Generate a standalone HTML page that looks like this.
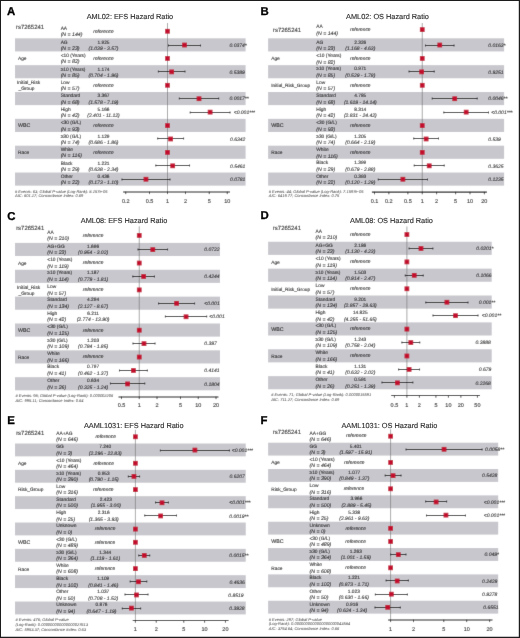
<!DOCTYPE html>
<html lang="en">
<head>
<meta charset="utf-8">
<title>Forest plots: rs7265241 hazard ratios</title>
<style>
html,body{margin:0;padding:0;background:#fff;}
body{width:520px;height:638px;overflow:hidden;}
svg{display:block;font-family:"Liberation Sans",sans-serif;text-rendering:geometricPrecision;}
text{stroke:#262626;stroke-width:0.1px;paint-order:stroke;}
</style>
</head>
<body>
<svg width="520" height="638" viewBox="0 0 520 638">
<defs><filter id="soft" x="0" y="0" width="520" height="638" filterUnits="userSpaceOnUse"><feConvolveMatrix order="3" kernelMatrix="1 10 1 10 100 10 1 10 1" divisor="144" edgeMode="duplicate" preserveAlpha="true"/></filter></defs>
<rect x="0" y="0" width="520" height="638" fill="#fff"/>
<g filter="url(#soft)">
<rect x="0" y="0" width="520" height="638" fill="#fff"/>
<g id="panel-A">
<rect x="15" y="38.32" width="230.60" height="13.12" fill="#c8c7cd"/>
<rect x="15" y="65.16" width="230.60" height="13.12" fill="#c8c7cd"/>
<rect x="15" y="92.00" width="230.60" height="13.12" fill="#c8c7cd"/>
<rect x="15" y="118.84" width="230.60" height="13.12" fill="#c8c7cd"/>
<rect x="15" y="145.68" width="230.60" height="13.12" fill="#c8c7cd"/>
<rect x="15" y="172.52" width="230.60" height="13.12" fill="#c8c7cd"/>
<line x1="167.5" y1="23.00" x2="167.5" y2="191.9" stroke="#6e6e6e" stroke-width="0.6"/>
<line x1="123.1" y1="191.9" x2="230" y2="191.9" stroke="#222" stroke-width="1.05"/>
<line x1="125.74" y1="191.60" x2="125.74" y2="194.10" stroke="#222" stroke-width="0.8"/>
<text x="125.74" y="202.79" font-size="5.5" text-anchor="middle" fill="#262626">0.2</text>
<line x1="149.51" y1="191.60" x2="149.51" y2="194.10" stroke="#222" stroke-width="0.8"/>
<text x="149.51" y="202.79" font-size="5.5" text-anchor="middle" fill="#262626">0.5</text>
<line x1="167.50" y1="191.60" x2="167.50" y2="194.10" stroke="#222" stroke-width="0.8"/>
<text x="167.50" y="202.79" font-size="5.5" text-anchor="middle" fill="#262626">1</text>
<line x1="185.49" y1="191.60" x2="185.49" y2="194.10" stroke="#222" stroke-width="0.8"/>
<text x="185.49" y="202.79" font-size="5.5" text-anchor="middle" fill="#262626">2</text>
<line x1="209.26" y1="191.60" x2="209.26" y2="194.10" stroke="#222" stroke-width="0.8"/>
<text x="209.26" y="202.79" font-size="5.5" text-anchor="middle" fill="#262626">5</text>
<line x1="227.25" y1="191.60" x2="227.25" y2="194.10" stroke="#222" stroke-width="0.8"/>
<text x="227.25" y="202.79" font-size="5.5" text-anchor="middle" fill="#262626">10</text>
<text x="16.00" y="28.75" font-size="5.95" fill="#262626">rs7265241</text>
<text x="60.65" y="29.80" font-size="4.85" fill="#262626">AA</text>
<text x="60.65" y="36.00" font-size="5.2" font-style="italic" fill="#262626">(N = 144)</text>
<text x="103.50" y="32.70" font-size="4.85" text-anchor="middle" font-style="italic" fill="#262626">reference</text>
<rect x="165.12" y="28.88" width="4.75" height="4.75" fill="#c2102e"/>
<text x="60.65" y="43.77" font-size="4.85" fill="#262626">AG</text>
<text x="60.65" y="50.02" font-size="5.2" font-style="italic" fill="#262626">(N = 23)</text>
<text x="103.50" y="43.77" font-size="4.8" text-anchor="middle" fill="#262626">1.925</text>
<text x="103.50" y="50.02" font-size="5.0" text-anchor="middle" font-style="italic" fill="#262626">(1.039 - 3.57)</text>
<path d="M168.49 45.50H200.52M168.49 44.60v1.8M200.52 44.60v1.8" stroke="#111" stroke-width="0.95" fill="none"/>
<text x="229.50" y="46.75" font-size="5.0" font-style="italic" fill="#262626">0.0374*</text>
<rect x="182.12" y="42.66" width="4.75" height="4.75" fill="#c2102e"/>
<text x="18.00" y="60.35" font-size="4.8" fill="#262626">Age</text>
<text x="60.65" y="57.19" font-size="4.85" fill="#262626">&lt;10 (Years)</text>
<text x="60.65" y="63.44" font-size="5.2" font-style="italic" fill="#262626">(N = 82)</text>
<text x="103.50" y="59.75" font-size="4.85" text-anchor="middle" font-style="italic" fill="#262626">reference</text>
<rect x="165.12" y="56.07" width="4.75" height="4.75" fill="#c2102e"/>
<text x="60.65" y="70.61" font-size="4.85" fill="#262626">≥10 (Years)</text>
<text x="60.65" y="76.86" font-size="5.2" font-style="italic" fill="#262626">(N = 85)</text>
<text x="103.50" y="70.61" font-size="4.8" text-anchor="middle" fill="#262626">1.174</text>
<text x="103.50" y="76.86" font-size="5.0" text-anchor="middle" font-style="italic" fill="#262626">(0.704 - 1.96)</text>
<path d="M158.39 71.50H184.96M158.39 70.60v1.8M184.96 70.60v1.8" stroke="#111" stroke-width="0.95" fill="none"/>
<text x="229.50" y="73.59" font-size="5.0" font-style="italic" fill="#262626">0.5389</text>
<rect x="169.29" y="69.49" width="4.75" height="4.75" fill="#c2102e"/>
<text x="17.00" y="84.48" font-size="4.8" fill="#262626">Initial_Risk</text>
<text x="18.50" y="89.98" font-size="4.8" fill="#262626">_Group</text>
<text x="60.65" y="84.03" font-size="4.85" fill="#262626">Low</text>
<text x="60.65" y="90.28" font-size="5.2" font-style="italic" fill="#262626">(N = 57)</text>
<text x="103.50" y="86.59" font-size="4.85" text-anchor="middle" font-style="italic" fill="#262626">reference</text>
<rect x="165.12" y="82.91" width="4.75" height="4.75" fill="#c2102e"/>
<text x="60.65" y="97.45" font-size="4.85" fill="#262626">Standard</text>
<text x="60.65" y="103.70" font-size="5.2" font-style="italic" fill="#262626">(N = 68)</text>
<text x="103.50" y="97.45" font-size="4.8" text-anchor="middle" fill="#262626">3.367</text>
<text x="103.50" y="103.70" font-size="5.0" text-anchor="middle" font-style="italic" fill="#262626">(1.578 - 7.19)</text>
<path d="M179.34 98.50H218.69M179.34 97.60v1.8M218.69 97.60v1.8" stroke="#111" stroke-width="0.95" fill="none"/>
<text x="229.50" y="100.43" font-size="5.0" font-style="italic" fill="#262626">0.0017**</text>
<rect x="196.63" y="96.33" width="4.75" height="4.75" fill="#c2102e"/>
<text x="60.65" y="110.87" font-size="4.85" fill="#262626">High</text>
<text x="60.65" y="117.12" font-size="5.2" font-style="italic" fill="#262626">(N = 42)</text>
<text x="103.50" y="110.87" font-size="4.8" text-anchor="middle" fill="#262626">5.166</text>
<text x="103.50" y="117.12" font-size="5.0" text-anchor="middle" font-style="italic" fill="#262626">(2.401 - 11.12)</text>
<path d="M190.23 112.50H230.00M190.23 111.60v1.8M230.00 111.60v1.8" stroke="#111" stroke-width="0.95" fill="none"/>
<text x="233.75" y="113.85" font-size="5.0" font-style="italic" fill="#262626">&lt;0.001***</text>
<rect x="207.74" y="109.75" width="4.75" height="4.75" fill="#c2102e"/>
<text x="18.00" y="127.45" font-size="5.3" fill="#262626">WBC</text>
<text x="60.65" y="124.29" font-size="4.85" fill="#262626">&lt;30 (G/L)</text>
<text x="60.65" y="130.54" font-size="5.2" font-style="italic" fill="#262626">(N = 93)</text>
<text x="103.50" y="126.85" font-size="4.85" text-anchor="middle" font-style="italic" fill="#262626">reference</text>
<rect x="165.12" y="123.17" width="4.75" height="4.75" fill="#c2102e"/>
<text x="60.65" y="137.71" font-size="4.85" fill="#262626">≥30 (G/L)</text>
<text x="60.65" y="143.96" font-size="5.2" font-style="italic" fill="#262626">(N = 74)</text>
<text x="103.50" y="137.71" font-size="4.8" text-anchor="middle" fill="#262626">1.129</text>
<text x="103.50" y="143.96" font-size="5.0" text-anchor="middle" font-style="italic" fill="#262626">(0.686 - 1.86)</text>
<path d="M157.72 138.50H183.60M157.72 137.60v1.8M183.60 137.60v1.8" stroke="#111" stroke-width="0.95" fill="none"/>
<text x="230.00" y="140.69" font-size="5.0" font-style="italic" fill="#262626">0.6342</text>
<rect x="168.27" y="136.59" width="4.75" height="4.75" fill="#c2102e"/>
<text x="18.00" y="154.29" font-size="4.8" fill="#262626">Race</text>
<text x="60.65" y="151.13" font-size="4.85" fill="#262626">White</text>
<text x="60.65" y="157.38" font-size="5.2" font-style="italic" fill="#262626">(N = 116)</text>
<text x="103.50" y="153.69" font-size="4.85" text-anchor="middle" font-style="italic" fill="#262626">reference</text>
<rect x="165.12" y="150.02" width="4.75" height="4.75" fill="#c2102e"/>
<text x="60.65" y="164.55" font-size="4.85" fill="#262626">Black</text>
<text x="60.65" y="170.80" font-size="5.2" font-style="italic" fill="#262626">(N = 29)</text>
<text x="103.50" y="164.55" font-size="4.8" text-anchor="middle" fill="#262626">1.221</text>
<text x="103.50" y="170.80" font-size="5.0" text-anchor="middle" font-style="italic" fill="#262626">(0.638 - 2.34)</text>
<path d="M155.84 165.50H189.56M155.84 164.60v1.8M189.56 164.60v1.8" stroke="#111" stroke-width="0.95" fill="none"/>
<text x="230.00" y="167.53" font-size="5.0" font-style="italic" fill="#262626">0.5461</text>
<rect x="170.31" y="163.44" width="4.75" height="4.75" fill="#c2102e"/>
<text x="60.65" y="177.97" font-size="4.85" fill="#262626">Other</text>
<text x="60.65" y="184.22" font-size="5.2" font-style="italic" fill="#262626">(N = 22)</text>
<text x="103.50" y="177.97" font-size="4.8" text-anchor="middle" fill="#262626">0.436</text>
<text x="103.50" y="184.22" font-size="5.0" text-anchor="middle" font-style="italic" fill="#262626">(0.173 - 1.10)</text>
<path d="M121.97 179.50H169.97M121.97 178.60v1.8M169.97 178.60v1.8" stroke="#111" stroke-width="0.95" fill="none"/>
<text x="230.00" y="180.95" font-size="5.0" font-style="italic" fill="#262626">0.0781</text>
<rect x="143.58" y="176.86" width="4.75" height="4.75" fill="#c2102e"/>
<text x="15.00" y="192.64" font-size="4.03" font-style="italic" fill="#2a2a2a" style="stroke:none"># Events: 63; Global P-value (Log-Rank): 8.157e-05</text>
<text x="15.00" y="197.49" font-size="4.03" font-style="italic" fill="#2a2a2a" style="stroke:none">AIC: 601.17; Concordance Index: 0.69</text>
</g>
<g id="panel-B">
<rect x="268.1" y="38.32" width="236.00" height="13.12" fill="#c8c7cd"/>
<rect x="268.1" y="65.16" width="236.00" height="13.12" fill="#c8c7cd"/>
<rect x="268.1" y="92.00" width="236.00" height="13.12" fill="#c8c7cd"/>
<rect x="268.1" y="118.84" width="236.00" height="13.12" fill="#c8c7cd"/>
<rect x="268.1" y="145.68" width="236.00" height="13.12" fill="#c8c7cd"/>
<rect x="268.1" y="172.52" width="236.00" height="13.12" fill="#c8c7cd"/>
<line x1="422.25" y1="23.00" x2="422.25" y2="192.1" stroke="#6e6e6e" stroke-width="0.6"/>
<line x1="371.9" y1="192.1" x2="486.9" y2="192.1" stroke="#222" stroke-width="1.05"/>
<line x1="374.50" y1="191.80" x2="374.50" y2="194.30" stroke="#222" stroke-width="0.8"/>
<text x="374.50" y="203.14" font-size="5.5" text-anchor="middle" fill="#262626">0.1</text>
<line x1="388.87" y1="191.80" x2="388.87" y2="194.30" stroke="#222" stroke-width="0.8"/>
<text x="388.87" y="203.14" font-size="5.5" text-anchor="middle" fill="#262626">0.2</text>
<line x1="407.88" y1="191.80" x2="407.88" y2="194.30" stroke="#222" stroke-width="0.8"/>
<text x="407.88" y="203.14" font-size="5.5" text-anchor="middle" fill="#262626">0.5</text>
<line x1="422.25" y1="191.80" x2="422.25" y2="194.30" stroke="#222" stroke-width="0.8"/>
<text x="422.25" y="203.14" font-size="5.5" text-anchor="middle" fill="#262626">1</text>
<line x1="436.62" y1="191.80" x2="436.62" y2="194.30" stroke="#222" stroke-width="0.8"/>
<text x="436.62" y="203.14" font-size="5.5" text-anchor="middle" fill="#262626">2</text>
<line x1="455.63" y1="191.80" x2="455.63" y2="194.30" stroke="#222" stroke-width="0.8"/>
<text x="455.63" y="203.14" font-size="5.5" text-anchor="middle" fill="#262626">5</text>
<line x1="470.00" y1="191.80" x2="470.00" y2="194.30" stroke="#222" stroke-width="0.8"/>
<text x="470.00" y="203.14" font-size="5.5" text-anchor="middle" fill="#262626">10</text>
<line x1="484.37" y1="191.80" x2="484.37" y2="194.30" stroke="#222" stroke-width="0.8"/>
<text x="484.37" y="203.14" font-size="5.5" text-anchor="middle" fill="#262626">20</text>
<text x="273.00" y="32.25" font-size="5.95" fill="#262626">rs7265241</text>
<text x="316.25" y="28.00" font-size="4.85" fill="#262626">AA</text>
<text x="316.25" y="34.60" font-size="5.2" font-style="italic" fill="#262626">(N = 144)</text>
<text x="360.30" y="31.10" font-size="4.85" text-anchor="middle" font-style="italic" fill="#262626">reference</text>
<rect x="419.88" y="27.23" width="4.75" height="4.75" fill="#c2102e"/>
<text x="316.25" y="43.62" font-size="4.85" fill="#262626">AG</text>
<text x="316.25" y="50.22" font-size="5.2" font-style="italic" fill="#262626">(N = 23)</text>
<text x="360.30" y="43.62" font-size="4.8" text-anchor="middle" fill="#262626">2.326</text>
<text x="360.30" y="50.22" font-size="5.0" text-anchor="middle" font-style="italic" fill="#262626">(1.168 - 4.63)</text>
<path d="M425.47 45.50H454.03M425.47 44.60v1.8M454.03 44.60v1.8" stroke="#111" stroke-width="0.95" fill="none"/>
<text x="488.25" y="46.75" font-size="5.0" font-style="italic" fill="#262626">0.0163*</text>
<rect x="437.38" y="42.66" width="4.75" height="4.75" fill="#c2102e"/>
<text x="271.25" y="60.35" font-size="4.8" fill="#262626">Age</text>
<text x="316.25" y="57.04" font-size="4.85" fill="#262626">&lt;10 (Years)</text>
<text x="316.25" y="63.64" font-size="5.2" font-style="italic" fill="#262626">(N = 82)</text>
<text x="360.30" y="59.75" font-size="4.85" text-anchor="middle" font-style="italic" fill="#262626">reference</text>
<rect x="419.88" y="56.07" width="4.75" height="4.75" fill="#c2102e"/>
<text x="316.25" y="70.46" font-size="4.85" fill="#262626">≥10 (Years)</text>
<text x="316.25" y="77.06" font-size="5.2" font-style="italic" fill="#262626">(N = 85)</text>
<text x="360.30" y="70.46" font-size="4.8" text-anchor="middle" fill="#262626">0.971</text>
<text x="360.30" y="77.06" font-size="5.0" text-anchor="middle" font-style="italic" fill="#262626">(0.529 - 1.78)</text>
<path d="M409.05 71.50H434.21M409.05 70.60v1.8M434.21 70.60v1.8" stroke="#111" stroke-width="0.95" fill="none"/>
<text x="488.25" y="73.59" font-size="5.0" font-style="italic" fill="#262626">0.9251</text>
<rect x="419.26" y="69.49" width="4.75" height="4.75" fill="#c2102e"/>
<text x="271.25" y="87.19" font-size="4.75" fill="#262626">Initial_Risk_Group</text>
<text x="316.25" y="83.88" font-size="4.85" fill="#262626">Low</text>
<text x="316.25" y="90.48" font-size="5.2" font-style="italic" fill="#262626">(N = 57)</text>
<text x="360.30" y="86.59" font-size="4.85" text-anchor="middle" font-style="italic" fill="#262626">reference</text>
<rect x="419.88" y="82.91" width="4.75" height="4.75" fill="#c2102e"/>
<text x="316.25" y="97.30" font-size="4.85" fill="#262626">Standard</text>
<text x="316.25" y="103.90" font-size="5.2" font-style="italic" fill="#262626">(N = 68)</text>
<text x="360.30" y="97.30" font-size="4.8" text-anchor="middle" fill="#262626">4.785</text>
<text x="360.30" y="103.90" font-size="5.0" text-anchor="middle" font-style="italic" fill="#262626">(1.619 - 14.14)</text>
<path d="M432.24 98.50H477.18M432.24 97.60v1.8M477.18 97.60v1.8" stroke="#111" stroke-width="0.95" fill="none"/>
<text x="488.25" y="100.43" font-size="5.0" font-style="italic" fill="#262626">0.0046**</text>
<rect x="452.34" y="96.33" width="4.75" height="4.75" fill="#c2102e"/>
<text x="316.25" y="110.72" font-size="4.85" fill="#262626">High</text>
<text x="316.25" y="117.32" font-size="5.2" font-style="italic" fill="#262626">(N = 42)</text>
<text x="360.30" y="110.72" font-size="4.8" text-anchor="middle" fill="#262626">8.314</text>
<text x="360.30" y="117.32" font-size="5.0" text-anchor="middle" font-style="italic" fill="#262626">(2.831 - 24.42)</text>
<path d="M443.83 112.50H488.51M443.83 111.60v1.8M488.51 111.60v1.8" stroke="#111" stroke-width="0.95" fill="none"/>
<text x="491.25" y="113.85" font-size="5.0" font-style="italic" fill="#262626">&lt;0.001***</text>
<rect x="463.80" y="109.75" width="4.75" height="4.75" fill="#c2102e"/>
<text x="271.25" y="127.45" font-size="5.3" fill="#262626">WBC</text>
<text x="316.25" y="124.14" font-size="4.85" fill="#262626">&lt;30 (G/L)</text>
<text x="316.25" y="130.74" font-size="5.2" font-style="italic" fill="#262626">(N = 93)</text>
<text x="360.30" y="126.85" font-size="4.85" text-anchor="middle" font-style="italic" fill="#262626">reference</text>
<rect x="419.88" y="123.17" width="4.75" height="4.75" fill="#c2102e"/>
<text x="316.25" y="137.56" font-size="4.85" fill="#262626">≥30 (G/L)</text>
<text x="316.25" y="144.16" font-size="5.2" font-style="italic" fill="#262626">(N = 74)</text>
<text x="360.30" y="137.56" font-size="4.8" text-anchor="middle" fill="#262626">1.205</text>
<text x="360.30" y="144.16" font-size="5.0" text-anchor="middle" font-style="italic" fill="#262626">(0.664 - 2.19)</text>
<path d="M413.76 138.50H438.51M413.76 137.60v1.8M438.51 137.60v1.8" stroke="#111" stroke-width="0.95" fill="none"/>
<text x="488.25" y="140.69" font-size="5.0" font-style="italic" fill="#262626">0.539</text>
<rect x="423.74" y="136.59" width="4.75" height="4.75" fill="#c2102e"/>
<text x="271.25" y="154.29" font-size="4.8" fill="#262626">Race</text>
<text x="316.25" y="150.98" font-size="4.85" fill="#262626">White</text>
<text x="316.25" y="157.58" font-size="5.2" font-style="italic" fill="#262626">(N = 116)</text>
<text x="360.30" y="153.69" font-size="4.85" text-anchor="middle" font-style="italic" fill="#262626">reference</text>
<rect x="419.88" y="150.02" width="4.75" height="4.75" fill="#c2102e"/>
<text x="316.25" y="164.40" font-size="4.85" fill="#262626">Black</text>
<text x="316.25" y="171.00" font-size="5.2" font-style="italic" fill="#262626">(N = 29)</text>
<text x="360.30" y="164.40" font-size="4.8" text-anchor="middle" fill="#262626">1.399</text>
<text x="360.30" y="171.00" font-size="5.0" text-anchor="middle" font-style="italic" fill="#262626">(0.679 - 2.88)</text>
<path d="M414.22 165.50H444.19M414.22 164.60v1.8M444.19 164.60v1.8" stroke="#111" stroke-width="0.95" fill="none"/>
<text x="488.25" y="167.53" font-size="5.0" font-style="italic" fill="#262626">0.3625</text>
<rect x="426.84" y="163.44" width="4.75" height="4.75" fill="#c2102e"/>
<text x="316.25" y="177.82" font-size="4.85" fill="#262626">Other</text>
<text x="316.25" y="184.42" font-size="5.2" font-style="italic" fill="#262626">(N = 22)</text>
<text x="360.30" y="177.82" font-size="4.8" text-anchor="middle" fill="#262626">0.393</text>
<text x="360.30" y="184.42" font-size="5.0" text-anchor="middle" font-style="italic" fill="#262626">(0.120 - 1.29)</text>
<path d="M378.28 179.50H427.53M378.28 178.60v1.8M427.53 178.60v1.8" stroke="#111" stroke-width="0.95" fill="none"/>
<text x="488.25" y="180.95" font-size="5.0" font-style="italic" fill="#262626">0.1235</text>
<rect x="400.51" y="176.86" width="4.75" height="4.75" fill="#c2102e"/>
<text x="268.75" y="192.64" font-size="4.03" font-style="italic" fill="#2a2a2a" style="stroke:none"># Events: 44; Global P-value (Log-Rank): 7.1597e-05</text>
<text x="268.75" y="197.14" font-size="4.03" font-style="italic" fill="#2a2a2a" style="stroke:none">AIC: 6419.77; Concordance Index: 0.75</text>
</g>
<g id="panel-C">
<rect x="15" y="242.90" width="205.00" height="13.13" fill="#c8c7cd"/>
<rect x="15" y="269.76" width="205.00" height="13.13" fill="#c8c7cd"/>
<rect x="15" y="296.62" width="205.00" height="13.13" fill="#c8c7cd"/>
<rect x="15" y="323.48" width="205.00" height="13.13" fill="#c8c7cd"/>
<rect x="15" y="350.34" width="205.00" height="13.13" fill="#c8c7cd"/>
<rect x="15" y="377.20" width="205.00" height="13.13" fill="#c8c7cd"/>
<line x1="139.25" y1="226.30" x2="139.25" y2="396.9" stroke="#6e6e6e" stroke-width="0.6"/>
<line x1="118.5" y1="396.9" x2="218.5" y2="396.9" stroke="#222" stroke-width="1.05"/>
<line x1="121.49" y1="396.60" x2="121.49" y2="399.10" stroke="#222" stroke-width="0.8"/>
<text x="121.49" y="407.49" font-size="5.5" text-anchor="middle" fill="#262626">0.5</text>
<line x1="139.25" y1="396.60" x2="139.25" y2="399.10" stroke="#222" stroke-width="0.8"/>
<text x="139.25" y="407.49" font-size="5.5" text-anchor="middle" fill="#262626">1</text>
<line x1="157.01" y1="396.60" x2="157.01" y2="399.10" stroke="#222" stroke-width="0.8"/>
<text x="157.01" y="407.49" font-size="5.5" text-anchor="middle" fill="#262626">2</text>
<line x1="180.49" y1="396.60" x2="180.49" y2="399.10" stroke="#222" stroke-width="0.8"/>
<text x="180.49" y="407.49" font-size="5.5" text-anchor="middle" fill="#262626">5</text>
<line x1="198.25" y1="396.60" x2="198.25" y2="399.10" stroke="#222" stroke-width="0.8"/>
<text x="198.25" y="407.49" font-size="5.5" text-anchor="middle" fill="#262626">10</text>
<line x1="216.01" y1="396.60" x2="216.01" y2="399.10" stroke="#222" stroke-width="0.8"/>
<text x="216.01" y="407.49" font-size="5.5" text-anchor="middle" fill="#262626">20</text>
<text x="16.15" y="229.85" font-size="5.95" fill="#262626">rs7265241</text>
<text x="47.30" y="233.77" font-size="4.85" fill="#262626">AA</text>
<text x="47.30" y="239.97" font-size="5.2" font-style="italic" fill="#262626">(N = 210)</text>
<text x="93.10" y="236.72" font-size="4.85" text-anchor="middle" font-style="italic" fill="#262626">reference</text>
<rect x="136.88" y="233.06" width="4.75" height="4.75" fill="#c2102e"/>
<text x="47.30" y="247.60" font-size="4.85" fill="#262626">AG+GG</text>
<text x="47.30" y="254.30" font-size="5.2" font-style="italic" fill="#262626">(N = 23)</text>
<text x="93.10" y="247.60" font-size="4.8" text-anchor="middle" fill="#262626">1.696</text>
<text x="93.10" y="254.30" font-size="5.0" text-anchor="middle" font-style="italic" fill="#262626">(0.954 - 3.02)</text>
<path d="M138.04 249.50H167.57M138.04 248.60v1.8M167.57 248.60v1.8" stroke="#111" stroke-width="0.95" fill="none"/>
<text x="204.25" y="251.34" font-size="5.0" font-style="italic" fill="#262626">0.0722</text>
<rect x="150.41" y="247.24" width="4.75" height="4.75" fill="#c2102e"/>
<text x="18.00" y="264.94" font-size="4.8" fill="#262626">Age</text>
<text x="47.30" y="261.03" font-size="4.85" fill="#262626">&lt;10 (Years)</text>
<text x="47.30" y="267.73" font-size="5.2" font-style="italic" fill="#262626">(N = 119)</text>
<text x="93.10" y="264.34" font-size="4.85" text-anchor="middle" font-style="italic" fill="#262626">reference</text>
<rect x="136.88" y="260.67" width="4.75" height="4.75" fill="#c2102e"/>
<text x="47.30" y="274.46" font-size="4.85" fill="#262626">≥10 (Years)</text>
<text x="47.30" y="281.16" font-size="5.2" font-style="italic" fill="#262626">(N = 114)</text>
<text x="93.10" y="274.46" font-size="4.8" text-anchor="middle" fill="#262626">1.187</text>
<text x="93.10" y="281.16" font-size="5.0" text-anchor="middle" font-style="italic" fill="#262626">(0.779 - 1.81)</text>
<path d="M132.85 276.50H154.45M132.85 275.60v1.8M154.45 275.60v1.8" stroke="#111" stroke-width="0.95" fill="none"/>
<text x="204.25" y="278.19" font-size="5.0" font-style="italic" fill="#262626">0.4244</text>
<rect x="141.27" y="274.10" width="4.75" height="4.75" fill="#c2102e"/>
<text x="17.00" y="289.09" font-size="4.8" fill="#262626">Initial_Risk</text>
<text x="18.50" y="294.59" font-size="4.8" fill="#262626">_Group</text>
<text x="47.30" y="287.89" font-size="4.85" fill="#262626">Low</text>
<text x="47.30" y="294.59" font-size="5.2" font-style="italic" fill="#262626">(N = 57)</text>
<text x="93.10" y="291.20" font-size="4.85" text-anchor="middle" font-style="italic" fill="#262626">reference</text>
<rect x="136.88" y="287.53" width="4.75" height="4.75" fill="#c2102e"/>
<text x="47.30" y="301.32" font-size="4.85" fill="#262626">Standard</text>
<text x="47.30" y="308.02" font-size="5.2" font-style="italic" fill="#262626">(N = 134)</text>
<text x="93.10" y="301.32" font-size="4.8" text-anchor="middle" fill="#262626">4.294</text>
<text x="93.10" y="308.02" font-size="5.0" text-anchor="middle" font-style="italic" fill="#262626">(2.127 - 8.67)</text>
<path d="M158.59 303.50H194.59M158.59 302.60v1.8M194.59 302.60v1.8" stroke="#111" stroke-width="0.95" fill="none"/>
<text x="204.25" y="305.06" font-size="5.0" font-style="italic" fill="#262626">&lt;0.001</text>
<rect x="174.21" y="300.96" width="4.75" height="4.75" fill="#c2102e"/>
<text x="47.30" y="314.75" font-size="4.85" fill="#262626">High</text>
<text x="47.30" y="321.45" font-size="5.2" font-style="italic" fill="#262626">(N = 42)</text>
<text x="93.10" y="314.75" font-size="4.8" text-anchor="middle" fill="#262626">6.211</text>
<text x="93.10" y="321.45" font-size="5.0" text-anchor="middle" font-style="italic" fill="#262626">(2.774 - 13.90)</text>
<path d="M165.39 316.50H206.69M165.39 315.60v1.8M206.69 315.60v1.8" stroke="#111" stroke-width="0.95" fill="none"/>
<text x="209.25" y="318.49" font-size="5.0" font-style="italic" fill="#262626">&lt;0.001</text>
<rect x="183.67" y="314.39" width="4.75" height="4.75" fill="#c2102e"/>
<text x="18.00" y="332.09" font-size="5.3" fill="#262626">WBC</text>
<text x="47.30" y="328.18" font-size="4.85" fill="#262626">&lt;30 (G/L)</text>
<text x="47.30" y="334.88" font-size="5.2" font-style="italic" fill="#262626">(N = 125)</text>
<text x="93.10" y="331.50" font-size="4.85" text-anchor="middle" font-style="italic" fill="#262626">reference</text>
<rect x="136.88" y="327.82" width="4.75" height="4.75" fill="#c2102e"/>
<text x="47.30" y="341.61" font-size="4.85" fill="#262626">≥30 (G/L)</text>
<text x="47.30" y="348.31" font-size="5.2" font-style="italic" fill="#262626">(N = 109)</text>
<text x="93.10" y="341.61" font-size="4.8" text-anchor="middle" fill="#262626">1.203</text>
<text x="93.10" y="348.31" font-size="5.0" text-anchor="middle" font-style="italic" fill="#262626">(0.784 - 1.85)</text>
<path d="M133.01 343.50H155.01M133.01 342.60v1.8M155.01 342.60v1.8" stroke="#111" stroke-width="0.95" fill="none"/>
<text x="204.25" y="345.34" font-size="5.0" font-style="italic" fill="#262626">0.397</text>
<rect x="141.61" y="341.25" width="4.75" height="4.75" fill="#c2102e"/>
<text x="18.00" y="358.95" font-size="4.8" fill="#262626">Race</text>
<text x="47.30" y="355.04" font-size="4.85" fill="#262626">White</text>
<text x="47.30" y="361.74" font-size="5.2" font-style="italic" fill="#262626">(N = 166)</text>
<text x="93.10" y="358.36" font-size="4.85" text-anchor="middle" font-style="italic" fill="#262626">reference</text>
<rect x="136.88" y="354.68" width="4.75" height="4.75" fill="#c2102e"/>
<text x="47.30" y="368.47" font-size="4.85" fill="#262626">Black</text>
<text x="47.30" y="375.17" font-size="5.2" font-style="italic" fill="#262626">(N = 41)</text>
<text x="93.10" y="368.47" font-size="4.8" text-anchor="middle" fill="#262626">0.797</text>
<text x="93.10" y="375.17" font-size="5.0" text-anchor="middle" font-style="italic" fill="#262626">(0.462 - 1.37)</text>
<path d="M119.46 370.50H147.32M119.46 369.60v1.8M147.32 369.60v1.8" stroke="#111" stroke-width="0.95" fill="none"/>
<text x="204.25" y="372.20" font-size="5.0" font-style="italic" fill="#262626">0.4141</text>
<rect x="131.06" y="368.11" width="4.75" height="4.75" fill="#c2102e"/>
<text x="47.30" y="381.90" font-size="4.85" fill="#262626">Other</text>
<text x="47.30" y="388.60" font-size="5.2" font-style="italic" fill="#262626">(N = 26)</text>
<text x="93.10" y="381.90" font-size="4.8" text-anchor="middle" fill="#262626">0.634</text>
<text x="93.10" y="388.60" font-size="5.0" text-anchor="middle" font-style="italic" fill="#262626">(0.325 - 1.24)</text>
<path d="M110.45 383.50H144.76M110.45 382.60v1.8M144.76 382.60v1.8" stroke="#111" stroke-width="0.95" fill="none"/>
<text x="204.25" y="385.63" font-size="5.0" font-style="italic" fill="#262626">0.1804</text>
<rect x="125.20" y="381.54" width="4.75" height="4.75" fill="#c2102e"/>
<text x="15.50" y="396.79" font-size="4.03" font-style="italic" fill="#2a2a2a" style="stroke:none"># Events: 98; Global P-value (Log-Rank): 0.000002206</text>
<text x="15.50" y="401.59" font-size="4.03" font-style="italic" fill="#2a2a2a" style="stroke:none">AIC: 995.11; Concordance Index: 0.64</text>
</g>
<g id="panel-D">
<rect x="268.1" y="241.74" width="223.60" height="13.14" fill="#c8c7cd"/>
<rect x="268.1" y="268.62" width="223.60" height="13.14" fill="#c8c7cd"/>
<rect x="268.1" y="295.50" width="223.60" height="13.14" fill="#c8c7cd"/>
<rect x="268.1" y="322.38" width="223.60" height="13.14" fill="#c8c7cd"/>
<rect x="268.1" y="349.26" width="223.60" height="13.14" fill="#c8c7cd"/>
<rect x="268.1" y="376.14" width="223.60" height="13.14" fill="#c8c7cd"/>
<line x1="406.9" y1="226.50" x2="406.9" y2="395.5" stroke="#6e6e6e" stroke-width="0.6"/>
<line x1="391.25" y1="395.5" x2="480" y2="395.5" stroke="#222" stroke-width="1.05"/>
<line x1="394.41" y1="395.20" x2="394.41" y2="397.70" stroke="#222" stroke-width="0.8"/>
<text x="394.41" y="406.79" font-size="5.5" text-anchor="middle" fill="#262626">0.5</text>
<line x1="406.90" y1="395.20" x2="406.90" y2="397.70" stroke="#222" stroke-width="0.8"/>
<text x="406.90" y="406.79" font-size="5.5" text-anchor="middle" fill="#262626">1</text>
<line x1="419.39" y1="395.20" x2="419.39" y2="397.70" stroke="#222" stroke-width="0.8"/>
<text x="419.39" y="406.79" font-size="5.5" text-anchor="middle" fill="#262626">2</text>
<line x1="435.91" y1="395.20" x2="435.91" y2="397.70" stroke="#222" stroke-width="0.8"/>
<text x="435.91" y="406.79" font-size="5.5" text-anchor="middle" fill="#262626">5</text>
<line x1="448.40" y1="395.20" x2="448.40" y2="397.70" stroke="#222" stroke-width="0.8"/>
<text x="448.40" y="406.79" font-size="5.5" text-anchor="middle" fill="#262626">10</text>
<line x1="460.89" y1="395.20" x2="460.89" y2="397.70" stroke="#222" stroke-width="0.8"/>
<text x="460.89" y="406.79" font-size="5.5" text-anchor="middle" fill="#262626">20</text>
<line x1="477.41" y1="395.20" x2="477.41" y2="397.70" stroke="#222" stroke-width="0.8"/>
<text x="477.41" y="406.79" font-size="5.5" text-anchor="middle" fill="#262626">50</text>
<text x="272.90" y="229.85" font-size="5.95" fill="#262626">rs7265241</text>
<text x="315.50" y="233.30" font-size="4.85" fill="#262626">AA</text>
<text x="315.50" y="239.30" font-size="5.2" font-style="italic" fill="#262626">(N = 210)</text>
<text x="360.30" y="235.80" font-size="4.85" text-anchor="middle" font-style="italic" fill="#262626">reference</text>
<rect x="404.52" y="232.15" width="4.75" height="4.75" fill="#c2102e"/>
<text x="315.50" y="246.84" font-size="4.85" fill="#262626">AG+GG</text>
<text x="315.50" y="253.39" font-size="5.2" font-style="italic" fill="#262626">(N = 23)</text>
<text x="360.30" y="246.84" font-size="4.8" text-anchor="middle" fill="#262626">2.186</text>
<text x="360.30" y="253.39" font-size="5.0" text-anchor="middle" font-style="italic" fill="#262626">(1.130 - 4.23)</text>
<path d="M409.10 248.50H432.89M409.10 247.60v1.8M432.89 247.60v1.8" stroke="#111" stroke-width="0.95" fill="none"/>
<text x="476.25" y="250.18" font-size="5.0" font-style="italic" fill="#262626">0.0201*</text>
<rect x="418.62" y="246.09" width="4.75" height="4.75" fill="#c2102e"/>
<text x="271.25" y="263.80" font-size="4.8" fill="#262626">Age</text>
<text x="315.50" y="260.28" font-size="4.85" fill="#262626">&lt;10 (Years)</text>
<text x="315.50" y="266.83" font-size="5.2" font-style="italic" fill="#262626">(N = 119)</text>
<text x="360.30" y="263.20" font-size="4.85" text-anchor="middle" font-style="italic" fill="#262626">reference</text>
<rect x="404.52" y="259.53" width="4.75" height="4.75" fill="#c2102e"/>
<text x="315.50" y="273.72" font-size="4.85" fill="#262626">≥10 (Years)</text>
<text x="315.50" y="280.27" font-size="5.2" font-style="italic" fill="#262626">(N = 114)</text>
<text x="360.30" y="273.72" font-size="4.8" text-anchor="middle" fill="#262626">1.503</text>
<text x="360.30" y="280.27" font-size="5.0" text-anchor="middle" font-style="italic" fill="#262626">(0.914 - 2.47)</text>
<path d="M405.28 275.50H423.20M405.28 274.60v1.8M423.20 274.60v1.8" stroke="#111" stroke-width="0.95" fill="none"/>
<text x="476.25" y="277.06" font-size="5.0" font-style="italic" fill="#262626">0.1066</text>
<rect x="411.87" y="272.97" width="4.75" height="4.75" fill="#c2102e"/>
<text x="271.25" y="290.68" font-size="4.75" fill="#262626">Initial_Risk_Group</text>
<text x="315.50" y="287.16" font-size="4.85" fill="#262626">Low</text>
<text x="315.50" y="293.71" font-size="5.2" font-style="italic" fill="#262626">(N = 57)</text>
<text x="360.30" y="290.08" font-size="4.85" text-anchor="middle" font-style="italic" fill="#262626">reference</text>
<rect x="404.52" y="286.41" width="4.75" height="4.75" fill="#c2102e"/>
<text x="315.50" y="300.60" font-size="4.85" fill="#262626">Standard</text>
<text x="315.50" y="307.15" font-size="5.2" font-style="italic" fill="#262626">(N = 134)</text>
<text x="360.30" y="300.60" font-size="4.8" text-anchor="middle" fill="#262626">9.201</text>
<text x="360.30" y="307.15" font-size="5.0" text-anchor="middle" font-style="italic" fill="#262626">(2.857 - 29.63)</text>
<path d="M425.82 302.50H467.98M425.82 301.60v1.8M467.98 301.60v1.8" stroke="#111" stroke-width="0.95" fill="none"/>
<text x="478.75" y="303.94" font-size="5.0" font-style="italic" fill="#262626">0.001**</text>
<rect x="444.52" y="299.85" width="4.75" height="4.75" fill="#c2102e"/>
<text x="315.50" y="314.04" font-size="4.85" fill="#262626">High</text>
<text x="315.50" y="320.59" font-size="5.2" font-style="italic" fill="#262626">(N = 42)</text>
<text x="360.30" y="314.04" font-size="4.8" text-anchor="middle" fill="#262626">14.825</text>
<text x="360.30" y="320.59" font-size="5.0" text-anchor="middle" font-style="italic" fill="#262626">(4.255 - 51.65)</text>
<path d="M433.00 315.50H477.99M433.00 314.60v1.8M477.99 314.60v1.8" stroke="#111" stroke-width="0.95" fill="none"/>
<text x="481.75" y="317.38" font-size="5.0" font-style="italic" fill="#262626">&lt;0.001**</text>
<rect x="453.12" y="313.29" width="4.75" height="4.75" fill="#c2102e"/>
<text x="271.25" y="331.00" font-size="5.3" fill="#262626">WBC</text>
<text x="315.50" y="327.48" font-size="4.85" fill="#262626">&lt;30 (G/L)</text>
<text x="315.50" y="334.03" font-size="5.2" font-style="italic" fill="#262626">(N = 125)</text>
<text x="360.30" y="330.40" font-size="4.85" text-anchor="middle" font-style="italic" fill="#262626">reference</text>
<rect x="404.52" y="326.73" width="4.75" height="4.75" fill="#c2102e"/>
<text x="315.50" y="340.92" font-size="4.85" fill="#262626">≥30 (G/L)</text>
<text x="315.50" y="347.47" font-size="5.2" font-style="italic" fill="#262626">(N = 109)</text>
<text x="360.30" y="340.92" font-size="4.8" text-anchor="middle" fill="#262626">1.243</text>
<text x="360.30" y="347.47" font-size="5.0" text-anchor="middle" font-style="italic" fill="#262626">(0.758 - 2.04)</text>
<path d="M401.91 342.50H419.75M401.91 341.60v1.8M419.75 341.60v1.8" stroke="#111" stroke-width="0.95" fill="none"/>
<text x="475.50" y="344.26" font-size="5.0" font-style="italic" fill="#262626">0.3888</text>
<rect x="408.45" y="340.17" width="4.75" height="4.75" fill="#c2102e"/>
<text x="271.25" y="357.88" font-size="4.8" fill="#262626">Race</text>
<text x="315.50" y="354.36" font-size="4.85" fill="#262626">White</text>
<text x="315.50" y="360.91" font-size="5.2" font-style="italic" fill="#262626">(N = 166)</text>
<text x="360.30" y="357.28" font-size="4.85" text-anchor="middle" font-style="italic" fill="#262626">reference</text>
<rect x="404.52" y="353.61" width="4.75" height="4.75" fill="#c2102e"/>
<text x="315.50" y="367.80" font-size="4.85" fill="#262626">Black</text>
<text x="315.50" y="374.35" font-size="5.2" font-style="italic" fill="#262626">(N = 41)</text>
<text x="360.30" y="367.80" font-size="4.8" text-anchor="middle" fill="#262626">1.131</text>
<text x="360.30" y="374.35" font-size="5.0" text-anchor="middle" font-style="italic" fill="#262626">(0.632 - 2.02)</text>
<path d="M398.63 369.50H419.57M398.63 368.60v1.8M419.57 368.60v1.8" stroke="#111" stroke-width="0.95" fill="none"/>
<text x="478.75" y="371.14" font-size="5.0" font-style="italic" fill="#262626">0.679</text>
<rect x="406.74" y="367.05" width="4.75" height="4.75" fill="#c2102e"/>
<text x="315.50" y="381.24" font-size="4.85" fill="#262626">Other</text>
<text x="315.50" y="387.79" font-size="5.2" font-style="italic" fill="#262626">(N = 26)</text>
<text x="360.30" y="381.24" font-size="4.8" text-anchor="middle" fill="#262626">0.591</text>
<text x="360.30" y="387.79" font-size="5.0" text-anchor="middle" font-style="italic" fill="#262626">(0.251 - 1.39)</text>
<path d="M381.99 382.50H412.84M381.99 381.60v1.8M412.84 381.60v1.8" stroke="#111" stroke-width="0.95" fill="none"/>
<text x="475.50" y="384.58" font-size="5.0" font-style="italic" fill="#262626">0.2268</text>
<rect x="395.05" y="380.49" width="4.75" height="4.75" fill="#c2102e"/>
<text x="271.25" y="395.89" font-size="4.03" font-style="italic" fill="#2a2a2a" style="stroke:none"># Events: 71; Global P-value (Log-Rank): 0.0000015591</text>
<text x="271.25" y="400.64" font-size="4.03" font-style="italic" fill="#2a2a2a" style="stroke:none">AIC: 711.27; Concordance Index: 0.69</text>
</g>
<g id="panel-E">
<rect x="15" y="443.50" width="230.75" height="12.87" fill="#c8c7cd"/>
<rect x="15" y="469.84" width="230.75" height="12.87" fill="#c8c7cd"/>
<rect x="15" y="496.18" width="230.75" height="12.87" fill="#c8c7cd"/>
<rect x="15" y="522.52" width="230.75" height="12.87" fill="#c8c7cd"/>
<rect x="15" y="548.86" width="230.75" height="12.87" fill="#c8c7cd"/>
<rect x="15" y="575.20" width="230.75" height="12.87" fill="#c8c7cd"/>
<rect x="15" y="601.54" width="230.75" height="12.87" fill="#c8c7cd"/>
<line x1="135.4" y1="429.80" x2="135.4" y2="620.5" stroke="#6e6e6e" stroke-width="0.6"/>
<line x1="132.75" y1="620.5" x2="228.5" y2="620.5" stroke="#222" stroke-width="1.05"/>
<line x1="135.40" y1="620.20" x2="135.40" y2="622.70" stroke="#222" stroke-width="0.8"/>
<text x="135.40" y="631.49" font-size="5.5" text-anchor="middle" fill="#262626">1</text>
<line x1="156.23" y1="620.20" x2="156.23" y2="622.70" stroke="#222" stroke-width="0.8"/>
<text x="156.23" y="631.49" font-size="5.5" text-anchor="middle" fill="#262626">2</text>
<line x1="183.77" y1="620.20" x2="183.77" y2="622.70" stroke="#222" stroke-width="0.8"/>
<text x="183.77" y="631.49" font-size="5.5" text-anchor="middle" fill="#262626">5</text>
<line x1="204.60" y1="620.20" x2="204.60" y2="622.70" stroke="#222" stroke-width="0.8"/>
<text x="204.60" y="631.49" font-size="5.5" text-anchor="middle" fill="#262626">10</text>
<line x1="225.43" y1="620.20" x2="225.43" y2="622.70" stroke="#222" stroke-width="0.8"/>
<text x="225.43" y="631.49" font-size="5.5" text-anchor="middle" fill="#262626">20</text>
<text x="16.15" y="434.70" font-size="5.95" fill="#262626">rs7265241</text>
<text x="56.25" y="435.28" font-size="4.85" fill="#262626">AA+AG</text>
<text x="56.25" y="441.23" font-size="5.2" font-style="italic" fill="#262626">(N = 646)</text>
<text x="105.70" y="438.10" font-size="4.85" text-anchor="middle" font-style="italic" fill="#262626">reference</text>
<rect x="133.03" y="434.39" width="4.75" height="4.75" fill="#c2102e"/>
<text x="56.25" y="448.45" font-size="4.85" fill="#262626">GG</text>
<text x="56.25" y="454.80" font-size="5.2" font-style="italic" fill="#262626">(N = 3)</text>
<text x="105.20" y="448.45" font-size="4.8" text-anchor="middle" fill="#262626">7.240</text>
<text x="105.20" y="454.80" font-size="5.0" text-anchor="middle" font-style="italic" fill="#262626">(2.296 - 22.83)</text>
<path d="M160.38 450.50H229.41M160.38 449.60v1.8M229.41 449.60v1.8" stroke="#111" stroke-width="0.95" fill="none"/>
<text x="231.75" y="451.81" font-size="5.0" font-style="italic" fill="#262626">&lt;0.001***</text>
<rect x="192.52" y="447.71" width="4.75" height="4.75" fill="#c2102e"/>
<text x="18.00" y="465.15" font-size="4.8" fill="#262626">Age</text>
<text x="56.25" y="461.62" font-size="4.85" fill="#262626">&lt;10 (Years)</text>
<text x="56.25" y="467.97" font-size="5.2" font-style="italic" fill="#262626">(N = 464)</text>
<text x="103.70" y="464.55" font-size="4.85" text-anchor="middle" font-style="italic" fill="#262626">reference</text>
<rect x="133.03" y="460.88" width="4.75" height="4.75" fill="#c2102e"/>
<text x="56.25" y="474.79" font-size="4.85" fill="#262626">≥10 (Years)</text>
<text x="56.25" y="481.14" font-size="5.2" font-style="italic" fill="#262626">(N = 390)</text>
<text x="103.70" y="474.79" font-size="4.8" text-anchor="middle" fill="#262626">0.953</text>
<text x="103.70" y="481.14" font-size="5.0" text-anchor="middle" font-style="italic" fill="#262626">(0.790 - 1.15)</text>
<path d="M128.32 476.50H139.60M128.32 475.60v1.8M139.60 475.60v1.8" stroke="#111" stroke-width="0.95" fill="none"/>
<text x="229.50" y="478.14" font-size="5.0" font-style="italic" fill="#262626">0.6207</text>
<rect x="131.58" y="474.05" width="4.75" height="4.75" fill="#c2102e"/>
<text x="18.00" y="491.49" font-size="4.8" fill="#262626">Risk_Group</text>
<text x="56.25" y="487.96" font-size="4.85" fill="#262626">Low</text>
<text x="56.25" y="494.31" font-size="5.2" font-style="italic" fill="#262626">(N = 316)</text>
<text x="103.30" y="490.89" font-size="4.85" text-anchor="middle" font-style="italic" fill="#262626">reference</text>
<rect x="133.03" y="487.22" width="4.75" height="4.75" fill="#c2102e"/>
<text x="56.25" y="501.13" font-size="4.85" fill="#262626">Standard</text>
<text x="56.25" y="507.48" font-size="5.2" font-style="italic" fill="#262626">(N = 500)</text>
<text x="105.85" y="501.13" font-size="4.8" text-anchor="middle" fill="#262626">2.423</text>
<text x="105.85" y="507.48" font-size="5.0" text-anchor="middle" font-style="italic" fill="#262626">(1.955 - 3.00)</text>
<path d="M155.55 502.50H168.42M155.55 501.60v1.8M168.42 501.60v1.8" stroke="#111" stroke-width="0.95" fill="none"/>
<text x="229.25" y="504.48" font-size="5.0" font-style="italic" fill="#262626">&lt;0.001***</text>
<rect x="159.62" y="500.39" width="4.75" height="4.75" fill="#c2102e"/>
<text x="56.25" y="514.30" font-size="4.85" fill="#262626">High</text>
<text x="56.25" y="520.65" font-size="5.2" font-style="italic" fill="#262626">(N = 25)</text>
<text x="103.70" y="514.30" font-size="4.8" text-anchor="middle" fill="#262626">2.316</text>
<text x="103.70" y="520.65" font-size="5.0" text-anchor="middle" font-style="italic" fill="#262626">(1.365 - 3.93)</text>
<path d="M144.75 515.50H176.53M144.75 514.60v1.8M176.53 514.60v1.8" stroke="#111" stroke-width="0.95" fill="none"/>
<text x="229.25" y="517.65" font-size="5.0" font-style="italic" fill="#262626">0.0019**</text>
<rect x="158.26" y="513.56" width="4.75" height="4.75" fill="#c2102e"/>
<text x="56.25" y="527.47" font-size="4.85" fill="#262626">Unknown</text>
<text x="56.25" y="533.82" font-size="5.2" font-style="italic" fill="#262626">(N = 0)</text>
<text x="105.10" y="530.40" font-size="4.85" text-anchor="middle" font-style="italic" fill="#262626">reference</text>
<rect x="133.03" y="526.73" width="4.75" height="4.75" fill="#c2102e"/>
<text x="18.00" y="544.17" font-size="5.3" fill="#262626">WBC</text>
<text x="56.25" y="540.64" font-size="4.85" fill="#262626">&lt;30 (G/L)</text>
<text x="56.25" y="546.99" font-size="5.2" font-style="italic" fill="#262626">(N = 489)</text>
<text x="105.00" y="543.57" font-size="4.85" text-anchor="middle" font-style="italic" fill="#262626">reference</text>
<rect x="133.03" y="539.90" width="4.75" height="4.75" fill="#c2102e"/>
<text x="56.25" y="553.81" font-size="4.85" fill="#262626">≥30 (G/L)</text>
<text x="56.25" y="560.16" font-size="5.2" font-style="italic" fill="#262626">(N = 364)</text>
<text x="105.25" y="553.81" font-size="4.8" text-anchor="middle" fill="#262626">1.344</text>
<text x="105.25" y="560.16" font-size="5.0" text-anchor="middle" font-style="italic" fill="#262626">(1.119 - 1.61)</text>
<path d="M138.78 555.50H149.71M138.78 554.60v1.8M149.71 554.60v1.8" stroke="#111" stroke-width="0.95" fill="none"/>
<text x="229.25" y="557.17" font-size="5.0" font-style="italic" fill="#262626">0.0015**</text>
<rect x="141.91" y="553.07" width="4.75" height="4.75" fill="#c2102e"/>
<text x="18.00" y="570.51" font-size="4.8" fill="#262626">Race</text>
<text x="56.25" y="566.98" font-size="4.85" fill="#262626">White</text>
<text x="56.25" y="573.33" font-size="5.2" font-style="italic" fill="#262626">(N = 608)</text>
<text x="105.00" y="569.91" font-size="4.85" text-anchor="middle" font-style="italic" fill="#262626">reference</text>
<rect x="133.03" y="566.24" width="4.75" height="4.75" fill="#c2102e"/>
<text x="56.25" y="580.15" font-size="4.85" fill="#262626">Black</text>
<text x="56.25" y="586.50" font-size="5.2" font-style="italic" fill="#262626">(N = 102)</text>
<text x="103.30" y="580.15" font-size="4.8" text-anchor="middle" fill="#262626">1.109</text>
<text x="103.30" y="586.50" font-size="5.0" text-anchor="middle" font-style="italic" fill="#262626">(0.841 - 1.46)</text>
<path d="M130.20 581.50H146.77M130.20 580.60v1.8M146.77 580.60v1.8" stroke="#111" stroke-width="0.95" fill="none"/>
<text x="229.50" y="583.51" font-size="5.0" font-style="italic" fill="#262626">0.4636</text>
<rect x="136.13" y="579.41" width="4.75" height="4.75" fill="#c2102e"/>
<text x="56.25" y="593.32" font-size="4.85" fill="#262626">Other</text>
<text x="56.25" y="599.67" font-size="5.2" font-style="italic" fill="#262626">(N = 50)</text>
<text x="103.25" y="593.32" font-size="4.8" text-anchor="middle" fill="#262626">1.037</text>
<text x="103.25" y="599.67" font-size="5.0" text-anchor="middle" font-style="italic" fill="#262626">(0.708 - 1.52)</text>
<path d="M125.02 594.50H147.98M125.02 593.60v1.8M147.98 593.60v1.8" stroke="#111" stroke-width="0.95" fill="none"/>
<text x="228.30" y="596.68" font-size="5.0" font-style="italic" fill="#262626">0.8519</text>
<rect x="134.12" y="592.58" width="4.75" height="4.75" fill="#c2102e"/>
<text x="56.25" y="606.49" font-size="4.85" fill="#262626">Unknown</text>
<text x="56.25" y="612.84" font-size="5.2" font-style="italic" fill="#262626">(N = 94)</text>
<text x="101.50" y="606.49" font-size="4.8" text-anchor="middle" fill="#262626">0.876</text>
<text x="101.50" y="612.84" font-size="5.0" text-anchor="middle" font-style="italic" fill="#262626">(0.647 - 1.19)</text>
<path d="M122.31 608.50H140.63M122.31 607.60v1.8M140.63 607.60v1.8" stroke="#111" stroke-width="0.95" fill="none"/>
<text x="229.25" y="609.85" font-size="5.0" font-style="italic" fill="#262626">0.3928</text>
<rect x="129.05" y="605.75" width="4.75" height="4.75" fill="#c2102e"/>
<text x="15.50" y="620.79" font-size="4.03" font-style="italic" fill="#2a2a2a" style="stroke:none"># Events: 476; Global P-value</text>
<text x="15.50" y="625.79" font-size="4.03" font-style="italic" fill="#2a2a2a" style="stroke:none">(Log-Rank): 0.000000000000000027613</text>
<text x="15.50" y="630.69" font-size="4.03" font-style="italic" fill="#2a2a2a" style="stroke:none">AIC: 5953.37; Concordance Index: 0.63</text>
</g>
<g id="panel-F">
<rect x="268.1" y="442.70" width="230.10" height="12.87" fill="#c8c7cd"/>
<rect x="268.1" y="469.04" width="230.10" height="12.87" fill="#c8c7cd"/>
<rect x="268.1" y="495.38" width="230.10" height="12.87" fill="#c8c7cd"/>
<rect x="268.1" y="521.72" width="230.10" height="12.87" fill="#c8c7cd"/>
<rect x="268.1" y="548.06" width="230.10" height="12.87" fill="#c8c7cd"/>
<rect x="268.1" y="574.40" width="230.10" height="12.87" fill="#c8c7cd"/>
<rect x="268.1" y="600.74" width="230.10" height="12.87" fill="#c8c7cd"/>
<line x1="390.6" y1="429.30" x2="390.6" y2="619.9" stroke="#6e6e6e" stroke-width="0.6"/>
<line x1="388.1" y1="619.9" x2="492.5" y2="619.9" stroke="#222" stroke-width="1.05"/>
<line x1="390.60" y1="619.60" x2="390.60" y2="622.10" stroke="#222" stroke-width="0.8"/>
<text x="390.60" y="630.89" font-size="5.5" text-anchor="middle" fill="#262626">1</text>
<line x1="413.51" y1="619.60" x2="413.51" y2="622.10" stroke="#222" stroke-width="0.8"/>
<text x="413.51" y="630.89" font-size="5.5" text-anchor="middle" fill="#262626">2</text>
<line x1="443.79" y1="619.60" x2="443.79" y2="622.10" stroke="#222" stroke-width="0.8"/>
<text x="443.79" y="630.89" font-size="5.5" text-anchor="middle" fill="#262626">5</text>
<line x1="466.70" y1="619.60" x2="466.70" y2="622.10" stroke="#222" stroke-width="0.8"/>
<text x="466.70" y="630.89" font-size="5.5" text-anchor="middle" fill="#262626">10</text>
<line x1="489.61" y1="619.60" x2="489.61" y2="622.10" stroke="#222" stroke-width="0.8"/>
<text x="489.61" y="630.89" font-size="5.5" text-anchor="middle" fill="#262626">20</text>
<text x="272.90" y="434.05" font-size="5.95" fill="#262626">rs7265241</text>
<text x="309.50" y="434.63" font-size="4.85" fill="#262626">AA+GG</text>
<text x="309.50" y="440.63" font-size="5.2" font-style="italic" fill="#262626">(N = 646)</text>
<text x="356.30" y="437.40" font-size="4.85" text-anchor="middle" font-style="italic" fill="#262626">reference</text>
<rect x="388.23" y="433.84" width="4.75" height="4.75" fill="#c2102e"/>
<text x="309.50" y="447.70" font-size="4.85" fill="#262626">GG</text>
<text x="309.50" y="454.00" font-size="5.2" font-style="italic" fill="#262626">(N = 3)</text>
<text x="355.80" y="447.70" font-size="4.8" text-anchor="middle" fill="#262626">5.401</text>
<text x="355.80" y="454.00" font-size="5.0" text-anchor="middle" font-style="italic" fill="#262626">(1.597 - 15.91)</text>
<path d="M406.07 449.50H482.05M406.07 448.60v1.8M482.05 448.60v1.8" stroke="#111" stroke-width="0.95" fill="none"/>
<text x="485.00" y="451.00" font-size="5.0" font-style="italic" fill="#262626">0.0058**</text>
<rect x="441.69" y="446.91" width="4.75" height="4.75" fill="#c2102e"/>
<text x="271.25" y="464.35" font-size="4.8" fill="#262626">Age</text>
<text x="309.50" y="460.87" font-size="4.85" fill="#262626">&lt;10 (Years)</text>
<text x="309.50" y="467.17" font-size="5.2" font-style="italic" fill="#262626">(N = 464)</text>
<text x="354.30" y="463.75" font-size="4.85" text-anchor="middle" font-style="italic" fill="#262626">reference</text>
<rect x="388.23" y="460.08" width="4.75" height="4.75" fill="#c2102e"/>
<text x="309.50" y="474.04" font-size="4.85" fill="#262626">≥10 (Years)</text>
<text x="309.50" y="480.34" font-size="5.2" font-style="italic" fill="#262626">(N = 390)</text>
<text x="354.30" y="474.04" font-size="4.8" text-anchor="middle" fill="#262626">1.077</text>
<text x="354.30" y="480.34" font-size="5.0" text-anchor="middle" font-style="italic" fill="#262626">(0.849 - 1.37)</text>
<path d="M385.19 475.50H401.00M385.19 474.60v1.8M401.00 474.60v1.8" stroke="#111" stroke-width="0.95" fill="none"/>
<text x="482.00" y="477.34" font-size="5.0" font-style="italic" fill="#262626">0.5428</text>
<rect x="390.68" y="473.25" width="4.75" height="4.75" fill="#c2102e"/>
<text x="271.25" y="490.69" font-size="4.8" fill="#262626">Risk_Group</text>
<text x="309.50" y="487.21" font-size="4.85" fill="#262626">Low</text>
<text x="309.50" y="493.51" font-size="5.2" font-style="italic" fill="#262626">(N = 316)</text>
<text x="353.90" y="490.09" font-size="4.85" text-anchor="middle" font-style="italic" fill="#262626">reference</text>
<rect x="388.23" y="486.42" width="4.75" height="4.75" fill="#c2102e"/>
<text x="309.50" y="500.38" font-size="4.85" fill="#262626">Standard</text>
<text x="309.50" y="506.68" font-size="5.2" font-style="italic" fill="#262626">(N = 500)</text>
<text x="356.45" y="500.38" font-size="4.8" text-anchor="middle" fill="#262626">3.966</text>
<text x="356.45" y="506.68" font-size="5.0" text-anchor="middle" font-style="italic" fill="#262626">(2.889 - 5.45)</text>
<path d="M425.66 501.50H446.64M425.66 500.60v1.8M446.64 500.60v1.8" stroke="#111" stroke-width="0.95" fill="none"/>
<text x="483.75" y="503.69" font-size="5.0" font-style="italic" fill="#262626">&lt;0.001***</text>
<rect x="433.76" y="499.59" width="4.75" height="4.75" fill="#c2102e"/>
<text x="309.50" y="513.55" font-size="4.85" fill="#262626">High</text>
<text x="309.50" y="519.85" font-size="5.2" font-style="italic" fill="#262626">(N = 25)</text>
<text x="354.30" y="513.55" font-size="4.8" text-anchor="middle" fill="#262626">5.338</text>
<text x="354.30" y="519.85" font-size="5.0" text-anchor="middle" font-style="italic" fill="#262626">(2.961 - 9.63)</text>
<path d="M426.48 515.50H465.45M426.48 514.60v1.8M465.45 514.60v1.8" stroke="#111" stroke-width="0.95" fill="none"/>
<text x="483.75" y="516.86" font-size="5.0" font-style="italic" fill="#262626">&lt;0.001***</text>
<rect x="443.58" y="512.76" width="4.75" height="4.75" fill="#c2102e"/>
<text x="309.50" y="526.72" font-size="4.85" fill="#262626">Unknown</text>
<text x="309.50" y="533.02" font-size="5.2" font-style="italic" fill="#262626">(N = 0)</text>
<text x="355.70" y="529.61" font-size="4.85" text-anchor="middle" font-style="italic" fill="#262626">reference</text>
<rect x="388.23" y="525.93" width="4.75" height="4.75" fill="#c2102e"/>
<text x="271.25" y="543.38" font-size="5.3" fill="#262626">WBC</text>
<text x="309.50" y="539.89" font-size="4.85" fill="#262626">&lt;30 (G/L)</text>
<text x="309.50" y="546.19" font-size="5.2" font-style="italic" fill="#262626">(N = 489)</text>
<text x="355.60" y="542.77" font-size="4.85" text-anchor="middle" font-style="italic" fill="#262626">reference</text>
<rect x="388.23" y="539.10" width="4.75" height="4.75" fill="#c2102e"/>
<text x="309.50" y="553.06" font-size="4.85" fill="#262626">≥30 (G/L)</text>
<text x="309.50" y="559.36" font-size="5.2" font-style="italic" fill="#262626">(N = 364)</text>
<text x="355.85" y="553.06" font-size="4.8" text-anchor="middle" fill="#262626">1.263</text>
<text x="355.85" y="559.36" font-size="5.0" text-anchor="middle" font-style="italic" fill="#262626">(1.001 - 1.59)</text>
<path d="M390.63 554.50H405.93M390.63 553.60v1.8M405.93 553.60v1.8" stroke="#111" stroke-width="0.95" fill="none"/>
<text x="484.50" y="556.37" font-size="5.0" font-style="italic" fill="#262626">0.049*</text>
<rect x="395.94" y="552.27" width="4.75" height="4.75" fill="#c2102e"/>
<text x="271.25" y="569.72" font-size="4.8" fill="#262626">Race</text>
<text x="309.50" y="566.23" font-size="4.85" fill="#262626">White</text>
<text x="309.50" y="572.53" font-size="5.2" font-style="italic" fill="#262626">(N = 608)</text>
<text x="355.60" y="569.12" font-size="4.85" text-anchor="middle" font-style="italic" fill="#262626">reference</text>
<rect x="388.23" y="565.44" width="4.75" height="4.75" fill="#c2102e"/>
<text x="309.50" y="579.40" font-size="4.85" fill="#262626">Black</text>
<text x="309.50" y="585.70" font-size="5.2" font-style="italic" fill="#262626">(N = 102)</text>
<text x="353.90" y="579.40" font-size="4.8" text-anchor="middle" fill="#262626">1.221</text>
<text x="353.90" y="585.70" font-size="5.0" text-anchor="middle" font-style="italic" fill="#262626">(0.873 - 1.71)</text>
<path d="M386.11 580.50H408.33M386.11 579.60v1.8M408.33 579.60v1.8" stroke="#111" stroke-width="0.95" fill="none"/>
<text x="482.00" y="582.71" font-size="5.0" font-style="italic" fill="#262626">0.2429</text>
<rect x="394.82" y="578.61" width="4.75" height="4.75" fill="#c2102e"/>
<text x="309.50" y="592.57" font-size="4.85" fill="#262626">Other</text>
<text x="309.50" y="598.87" font-size="5.2" font-style="italic" fill="#262626">(N = 50)</text>
<text x="353.85" y="592.57" font-size="4.8" text-anchor="middle" fill="#262626">1.023</text>
<text x="353.85" y="598.87" font-size="5.0" text-anchor="middle" font-style="italic" fill="#262626">(0.630 - 1.66)</text>
<path d="M375.33 594.50H407.35M375.33 593.60v1.8M407.35 593.60v1.8" stroke="#111" stroke-width="0.95" fill="none"/>
<text x="482.00" y="595.88" font-size="5.0" font-style="italic" fill="#262626">0.9278</text>
<rect x="388.98" y="591.78" width="4.75" height="4.75" fill="#c2102e"/>
<text x="309.50" y="605.74" font-size="4.85" fill="#262626">Unknown</text>
<text x="309.50" y="612.04" font-size="5.2" font-style="italic" fill="#262626">(N = 94)</text>
<text x="352.10" y="605.74" font-size="4.8" text-anchor="middle" fill="#262626">0.916</text>
<text x="352.10" y="612.04" font-size="5.0" text-anchor="middle" font-style="italic" fill="#262626">(0.624 - 1.34)</text>
<path d="M375.01 607.50H400.27M375.01 606.60v1.8M400.27 606.60v1.8" stroke="#111" stroke-width="0.95" fill="none"/>
<text x="483.25" y="609.05" font-size="5.0" font-style="italic" fill="#262626">0.6551</text>
<rect x="385.33" y="604.95" width="4.75" height="4.75" fill="#c2102e"/>
<text x="268.75" y="620.64" font-size="4.03" font-style="italic" fill="#2a2a2a" style="stroke:none"># Events: 297; Global P-value</text>
<text x="268.75" y="625.29" font-size="4.03" font-style="italic" fill="#2a2a2a" style="stroke:none">(Log-Rank): 0.0000000000000000000043584</text>
<text x="268.75" y="630.09" font-size="4.03" font-style="italic" fill="#2a2a2a" style="stroke:none">AIC: 3754.64; Concordance Index: 0.66</text>
</g>
</g>
<text x="6.90" y="15.10" font-size="11.4" font-weight="bold" fill="#000" style="stroke:#000;stroke-width:0.3px">A</text>
<text x="129.90" y="18.78" font-size="7.35" text-anchor="middle" fill="#2a2a2a" style="stroke:#2a2a2a;stroke-width:0.12px">AML02: EFS Hazard Ratio</text>
<text x="260.60" y="15.20" font-size="11.4" font-weight="bold" fill="#000" style="stroke:#000;stroke-width:0.3px">B</text>
<text x="387.50" y="18.78" font-size="7.35" text-anchor="middle" fill="#2a2a2a" style="stroke:#2a2a2a;stroke-width:0.12px">AML02: OS Hazard Ratio</text>
<text x="7.30" y="219.50" font-size="11.4" font-weight="bold" fill="#000" style="stroke:#000;stroke-width:0.3px">C</text>
<text x="124.10" y="223.28" font-size="7.35" text-anchor="middle" fill="#2a2a2a" style="stroke:#2a2a2a;stroke-width:0.12px">AML08: EFS Hazard Ratio</text>
<text x="260.60" y="219.20" font-size="11.4" font-weight="bold" fill="#000" style="stroke:#000;stroke-width:0.3px">D</text>
<text x="391.50" y="223.28" font-size="7.35" text-anchor="middle" fill="#2a2a2a" style="stroke:#2a2a2a;stroke-width:0.12px">AML08: OS Hazard Ratio</text>
<text x="7.30" y="423.60" font-size="11.4" font-weight="bold" fill="#000" style="stroke:#000;stroke-width:0.3px">E</text>
<text x="133.75" y="427.53" font-size="7.35" text-anchor="middle" fill="#2a2a2a" style="stroke:#2a2a2a;stroke-width:0.12px">AAML1031: EFS Hazard Ratio</text>
<text x="260.60" y="423.60" font-size="11.4" font-weight="bold" fill="#000" style="stroke:#000;stroke-width:0.3px">F</text>
<text x="389.40" y="427.53" font-size="7.35" text-anchor="middle" fill="#2a2a2a" style="stroke:#2a2a2a;stroke-width:0.12px">AAML1031: OS Hazard Ratio</text>
<path d="M0 0H520V638H0Z M1 1V636.7H518.8V1Z" fill="#1c1c1c" fill-rule="evenodd"/>
</svg>
</body>
</html>
